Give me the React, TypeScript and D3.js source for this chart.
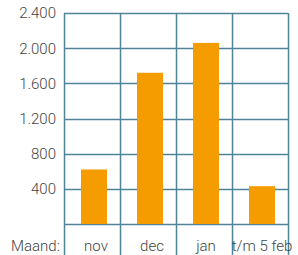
import React, { useRef, useEffect } from 'react';
import * as d3 from 'd3';

const months = ['nov', 'dec', 'jan', 't/m 5 feb'];
const values = [620, 1720, 2060, 430];
const yTicks = [400, 800, 1200, 1600, 2000, 2400];

const App = () => {
  const ref = useRef<SVGSVGElement | null>(null);

  useEffect(() => {
    if (!ref.current) return;
    const svg = d3.select(ref.current);
    svg.selectAll('*').remove();

    const width = 298;
    const height = 255;
    const margin = { top: 13, right: 10, bottom: 31, left: 64 };
    const gridColor = '#4f8397';

    const x = d3.scaleBand().domain(months).range([margin.left, width - margin.right]);
    const y = d3.scaleLinear().domain([0, 2400]).range([height - margin.bottom, margin.top]);

    // horizontal grid
    svg.append('g')
      .selectAll('line')
      .data([0, ...yTicks])
      .join('line')
      .attr('x1', margin.left)
      .attr('x2', width - margin.right)
      .attr('y1', d => Math.round(y(d)) + 0.5)
      .attr('y2', d => Math.round(y(d)) + 0.5)
      .attr('stroke', gridColor)
      .attr('stroke-width', 1.5);

    // vertical grid (extends into label row)
    const xs = [...months.map(m => x(m) as number), width - margin.right];
    svg.append('g')
      .selectAll('line')
      .data(xs)
      .join('line')
      .attr('x1', d => Math.round(d) + 0.5)
      .attr('x2', d => Math.round(d) + 0.5)
      .attr('y1', margin.top)
      .attr('y2', height)
      .attr('stroke', gridColor)
      .attr('stroke-width', 1.5);

    // bars
    const barW = 26;
    svg.append('g')
      .selectAll('rect')
      .data(values)
      .join('rect')
      .attr('x', (d, i) => (x(months[i]) as number) + x.bandwidth() / 2 - barW / 2 + 2)
      .attr('y', d => y(d))
      .attr('width', barW)
      .attr('height', d => y(0) - y(d))
      .attr('fill', '#f59d00');

    const font = 'Roboto, sans-serif';

    // y labels
    svg.append('g')
      .selectAll('text')
      .data(yTicks)
      .join('text')
      .attr('x', 56)
      .attr('y', d => y(d))
      .attr('dy', '0.36em')
      .attr('text-anchor', 'end')
      .attr('font-family', font)
      .attr('font-weight', 300)
      .attr('font-size', 15)
      .attr('fill', '#444')
      .text(d => d3.format(',')(d).replace(',', '.'));

    // x labels
    svg.append('text')
      .attr('x', 11)
      .attr('y', 251)
      .attr('font-family', font)
      .attr('font-weight', 300)
      .attr('font-size', 15)
      .attr('fill', '#444')
      .text('Maand:');

    svg.append('g')
      .selectAll('text')
      .data(months)
      .join('text')
      .attr('x', d => (x(d) as number) + x.bandwidth() / 2 + (d === 'nov' ? 4 : d === 'dec' ? 4 : 2))
      .attr('y', 251)
      .attr('text-anchor', 'middle')
      .attr('font-family', font)
      .attr('font-weight', 300)
      .attr('font-size', 15)
      .attr('fill', '#444')
      .text(d => d);
  }, []);

  return (
    <svg
      ref={ref}
      width={298}
      height={255}
      style={{ position: 'absolute', left: 0, top: 0, background: '#fff' }}
    />
  );
};

export default App;
